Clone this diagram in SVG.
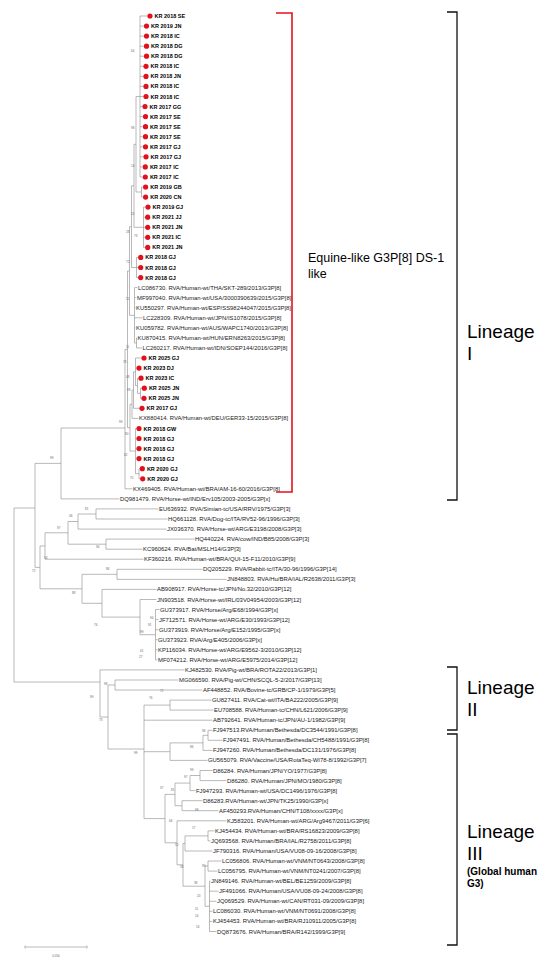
<svg xmlns="http://www.w3.org/2000/svg" width="550" height="968" viewBox="0 0 550 968">
<style>
.br{fill:none;stroke:#8a8a8a;stroke-width:0.6}
.kr{font-family:"Liberation Sans",Arial,sans-serif;font-size:5.5px;font-weight:bold;fill:#000}
.lf{font-family:"Liberation Sans",Arial,sans-serif;font-size:5.9px;fill:#1a1a1a}
.bs{font-family:"Liberation Sans",Arial,sans-serif;font-size:3px;fill:#666}
.dot{fill:#e3101c}
.brk{fill:none;stroke:#111;stroke-width:1.3}
.red{fill:none;stroke:#e3101c;stroke-width:1.6}
.big{font-family:"Liberation Sans",Arial,sans-serif;font-size:19px;fill:#000}
.mid{font-family:"Liberation Sans",Arial,sans-serif;font-size:12.5px;fill:#000}
.sm{font-family:"Liberation Sans",Arial,sans-serif;font-size:10px;font-weight:bold;fill:#000}
</style>
<rect width="550" height="968" fill="#fff"/>
<g id="connectors" class="br">
<path d="M140,16V177M140,16H147.4M140,26.1H143.9M140,36.1H143.9M140,46.2H143.9M140,56.2H143.9M140,66.3H143.4M140,76.4H143.4M140,86.4H143.4M140,96.5H143.4M140,106.5H142.4M140,116.6H142.9M140,126.7H142.9M140,136.7H142.9M140,146.8H142.9M140,156.8H143.4M140,166.9H142.7M140,177H142.7"/>
<path d="M141.5,187V197.1M141.5,187H143M141.5,197.1H143"/>
<path d="M143.5,207.1V247.4M143.5,207.1H145.4M143.5,217.2H145.1M143.5,227.3H145.1M143.5,237.3H145.1M143.5,247.4H145.1"/>
<path d="M136,96.5V192M136,96.5H140M136,192H141.5"/>
<path d="M134,144.3V227.3M134,144.3H136M134,227.3H143.5"/>
<path d="M136.5,257.4V277.6M136.5,257.4H138.1M136.5,267.5H138.1M136.5,277.6H138.1"/>
<path d="M131.5,185.8V267.5M131.5,185.8H134M131.5,267.5H136.5"/>
<path d="M136.5,337.9V348M136.5,337.9H137M136.5,348H142"/>
<path d="M134.5,287.6V343M134.5,287.6H137.5M134.5,297.7H136.5M134.5,307.7H135.5M134.5,317.8H142.5M134.5,327.9H135.5M134.5,343H136.5"/>
<path d="M129.5,226.7V315.3M129.5,226.7H131.5M129.5,315.3H134.5"/>
<path d="M140.5,388.2V398.3M140.5,388.2H141.7M140.5,398.3H141.4"/>
<path d="M137.5,378.2V393.3M137.5,378.2H138.4M137.5,393.3H140.5"/>
<path d="M135.5,358V385.7M135.5,358H141.4M135.5,368.1H136.4M135.5,385.7H137.5"/>
<path d="M133.5,371.9V408.3M133.5,371.9H135.5M133.5,408.3H139.4"/>
<path d="M132,390.1V418.4M132,390.1H133.5M132,418.4H138.5"/>
<path d="M139,468.7V478.8M139,468.7H139.7M139,478.8H140.1"/>
<path d="M135.5,428.5V473.7M135.5,428.5H136.4M135.5,438.5H136.4M135.5,448.6H136.4M135.5,458.6H136.4M135.5,473.7H139"/>
<path d="M130,404.3V451.1M130,404.3H132M130,451.1H135.5"/>
<path d="M127.5,271V427.7M127.5,271H129.5M127.5,427.7H130"/>
<path d="M125,349.4V488.8M125,349.4H127.5M125,488.8H132.5"/>
<path d="M61,428V498.9M61,428H125M61,498.9H119.5"/>
<path d="M96,508.9V519M96,508.9H158.5M96,519H167.5"/>
<path d="M78,514V529.1M78,514H96M78,529.1H166.5"/>
<path d="M106,539.1V549.2M106,539.1H194.5M106,549.2H142.5"/>
<path d="M68,521.5V544.2M68,521.5H78M68,544.2H106"/>
<path d="M45,532.8V559.2M45,532.8H68M45,559.2H143.5"/>
<path d="M117,569.3V579.4M117,569.3H202.5M117,579.4H226.5"/>
<path d="M155.5,609.5V659.8M155.5,609.5H159.5M155.5,619.6H158.5M155.5,629.7H158.5M155.5,639.7H157.5M155.5,649.8H157.5M155.5,659.8H157.5"/>
<path d="M140,599.5V634.7M140,599.5H156.5M140,634.7H155.5"/>
<path d="M102,589.4V617.1M102,589.4H156.5M102,617.1H140"/>
<path d="M82,574.3V603.3M82,574.3H117M82,603.3H102"/>
<path d="M40,546V588.8M40,546H45M40,588.8H82"/>
<path d="M35,463.4V567.4M35,463.4H61M35,567.4H40"/>
<path d="M14,508V682M14,508H35M14,682H100"/>
<path d="M100,669.9V717M100,669.9H184.5M100,717H108"/>
<path d="M115,680V690M115,680H178.5M115,690H202.5"/>
<path d="M108,685V749M108,685H115M108,749H144"/>
<path d="M170,700.1V710.1M170,700.1H211.5M170,710.1H213.5"/>
<path d="M144,705.1V818.6M144,705.1H170M144,720.2H212.5M144,751.7H170M144,818.6H165"/>
<path d="M208,730.3V740.3M208,730.3H212.5M208,740.3H222.5"/>
<path d="M203,735.3V750.4M203,735.3H208M203,750.4H212.5"/>
<path d="M170,742.9V760.4M170,742.9H203M170,760.4H207.5"/>
<path d="M200,770.5V780.6M200,770.5H212.5M200,780.6H226.5"/>
<path d="M190,775.5V790.6M190,775.5H200M190,790.6H195.5"/>
<path d="M182,800.7V810.7M182,800.7H202.5M182,810.7H218.5"/>
<path d="M175,783.1V805.7M175,783.1H190M175,805.7H182"/>
<path d="M208,830.9V840.9M208,830.9H214.5M208,840.9H210.5"/>
<path d="M185,835.9V851M185,835.9H208M185,851H212.5"/>
<path d="M208,861V871.1M208,861H221.5M208,871.1H217.5"/>
<path d="M209.5,881.2V931.5M209.5,881.2H210.5M209.5,891.2H218.5M209.5,901.3H216.5M209.5,911.3H212.5M209.5,921.4H212.5M209.5,931.5H216.5"/>
<path d="M205,866V906.3M205,866H208M205,906.3H209.5"/>
<path d="M183,843.4V886.2M183,843.4H185M183,886.2H205"/>
<path d="M177,820.8V864.8M177,820.8H226.5M177,864.8H183"/>
<path d="M165,794.4V842.8M165,794.4H175M165,842.8H177"/>
</g>
<g id="bootstrap" class="bs">
<text x="131" y="52">64</text><text x="131" y="129">98</text><text x="131" y="167">14</text><text x="131" y="215">52</text><text x="126" y="233">28</text><text x="134" y="237">73</text><text x="126" y="263">72</text><text x="126" y="300">11</text><text x="126" y="348">11</text><text x="123" y="363">78</text><text x="126" y="378">48</text><text x="127" y="391">89</text><text x="119" y="423">99</text><text x="125" y="435">80</text><text x="124" y="456">62</text><text x="130" y="479">70</text>
<text x="50" y="459">99</text><text x="85" y="510">81</text><text x="69" y="517">46</text><text x="57" y="529">97</text><text x="96" y="548">94</text><text x="44" y="559">53</text><text x="32" y="572">72</text><text x="106" y="570">86</text><text x="72" y="594">88</text><text x="94" y="626">74</text><text x="140" y="633">99</text><text x="148" y="626">91</text><text x="150" y="619">94</text><text x="140" y="652">61</text><text x="139" y="658">27</text>
<text x="90" y="698">99</text><text x="104" y="685">98</text><text x="160" y="692">71</text><text x="149" y="699">76</text><text x="99" y="721">73</text><text x="202" y="732">98</text><text x="190" y="748">86</text><text x="134" y="754">99</text><text x="190" y="771">99</text><text x="184" y="778">97</text><text x="160" y="789">37</text><text x="171" y="791">81</text><text x="195" y="811">99</text><text x="169" y="822">66</text><text x="192" y="829">17</text><text x="175" y="846">52</text><text x="202" y="867">99</text><text x="180" y="868">58</text><text x="194" y="884">38</text><text x="197" y="897">20</text><text x="195" y="910">11</text><text x="195" y="917">14</text><text x="196" y="928">16</text>
</g>
<g id="leaves">
<g id="L01"><circle class="dot" cx="150" cy="16" r="2.6"/><text class="kr" x="154.6" y="18">KR 2018 SE</text></g>
<g id="L02"><circle class="dot" cx="146.5" cy="26.1" r="2.6"/><text class="kr" x="151.1" y="28.1">KR 2019 JN</text></g>
<g id="L03"><circle class="dot" cx="146.5" cy="36.1" r="2.6"/><text class="kr" x="151.1" y="38.1">KR 2018 IC</text></g>
<g id="L04"><circle class="dot" cx="146.5" cy="46.2" r="2.6"/><text class="kr" x="151.1" y="48.2">KR 2018 DG</text></g>
<g id="L05"><circle class="dot" cx="146.5" cy="56.2" r="2.6"/><text class="kr" x="151.1" y="58.2">KR 2018 DG</text></g>
<g id="L06"><circle class="dot" cx="146" cy="66.3" r="2.6"/><text class="kr" x="150.6" y="68.3">KR 2018 IC</text></g>
<g id="L07"><circle class="dot" cx="146" cy="76.4" r="2.6"/><text class="kr" x="150.6" y="78.4">KR 2018 JN</text></g>
<g id="L08"><circle class="dot" cx="146" cy="86.4" r="2.6"/><text class="kr" x="150.6" y="88.4">KR 2018 IC</text></g>
<g id="L09"><circle class="dot" cx="146" cy="96.5" r="2.6"/><text class="kr" x="150.6" y="98.5">KR 2018 IC</text></g>
<g id="L10"><circle class="dot" cx="145" cy="106.5" r="2.6"/><text class="kr" x="149.6" y="108.5">KR 2017 GG</text></g>
<g id="L11"><circle class="dot" cx="145.5" cy="116.6" r="2.6"/><text class="kr" x="150.1" y="118.6">KR 2017 SE</text></g>
<g id="L12"><circle class="dot" cx="145.5" cy="126.7" r="2.6"/><text class="kr" x="150.1" y="128.7">KR 2017 SE</text></g>
<g id="L13"><circle class="dot" cx="145.5" cy="136.7" r="2.6"/><text class="kr" x="150.1" y="138.7">KR 2017 SE</text></g>
<g id="L14"><circle class="dot" cx="145.5" cy="146.8" r="2.6"/><text class="kr" x="150.1" y="148.8">KR 2017 GJ</text></g>
<g id="L15"><circle class="dot" cx="146" cy="156.8" r="2.6"/><text class="kr" x="150.6" y="158.8">KR 2017 GJ</text></g>
<g id="L16"><circle class="dot" cx="145.3" cy="166.9" r="2.6"/><text class="kr" x="149.9" y="168.9">KR 2017 IC</text></g>
<g id="L17"><circle class="dot" cx="145.3" cy="177" r="2.6"/><text class="kr" x="149.9" y="179">KR 2017 IC</text></g>
<g id="L18"><circle class="dot" cx="145.6" cy="187" r="2.6"/><text class="kr" x="150.2" y="189">KR 2019 GB</text></g>
<g id="L19"><circle class="dot" cx="145.6" cy="197.1" r="2.6"/><text class="kr" x="150.2" y="199.1">KR 2020 CN</text></g>
<g id="L20"><circle class="dot" cx="148" cy="207.1" r="2.6"/><text class="kr" x="152.6" y="209.1">KR 2019 GJ</text></g>
<g id="L21"><circle class="dot" cx="147.7" cy="217.2" r="2.6"/><text class="kr" x="152.3" y="219.2">KR 2021 JJ</text></g>
<g id="L22"><circle class="dot" cx="147.7" cy="227.3" r="2.6"/><text class="kr" x="152.3" y="229.3">KR 2021 JN</text></g>
<g id="L23"><circle class="dot" cx="147.7" cy="237.3" r="2.6"/><text class="kr" x="152.3" y="239.3">KR 2021 IC</text></g>
<g id="L24"><circle class="dot" cx="147.7" cy="247.4" r="2.6"/><text class="kr" x="152.3" y="249.4">KR 2021 JN</text></g>
<g id="L25"><circle class="dot" cx="140.7" cy="257.4" r="2.6"/><text class="kr" x="145.3" y="259.4">KR 2018 GJ</text></g>
<g id="L26"><circle class="dot" cx="140.7" cy="267.5" r="2.6"/><text class="kr" x="145.3" y="269.5">KR 2018 GJ</text></g>
<g id="L27"><circle class="dot" cx="140.7" cy="277.6" r="2.6"/><text class="kr" x="145.3" y="279.6">KR 2018 GJ</text></g>
<g id="L28"><text class="lf" x="138" y="289.6">LC086730. RVA/Human-wt/THA/SKT-289/2013/G3P[8]</text></g>
<g id="L29"><text class="lf" x="137" y="299.7">MF997040. RVA/Human-wt/USA/3000390639/2015/G3P[8]</text></g>
<g id="L30"><text class="lf" x="136" y="309.7">KU550297. RVA/Human-wt/ESP/SS98244047/2015/G3P[8]</text></g>
<g id="L31"><text class="lf" x="143" y="319.8">LC228309. RVA/Human-wt/JPN/IS1078/2015/G3P[8]</text></g>
<g id="L32"><text class="lf" x="136" y="329.9">KU059782. RVA/Human-wt/AUS/WAPC1740/2013/G3P[8]</text></g>
<g id="L33"><text class="lf" x="137.5" y="339.9">KU870415. RVA/Human-wt/HUN/ERN8263/2015/G3P[8]</text></g>
<g id="L34"><text class="lf" x="142.5" y="350">LC260217. RVA/Human-wt/IDN/SOEP144/2016/G3P[8]</text></g>
<g id="L35"><circle class="dot" cx="144" cy="358" r="2.6"/><text class="kr" x="148.6" y="360">KR 2025 GJ</text></g>
<g id="L36"><circle class="dot" cx="139" cy="368.1" r="2.6"/><text class="kr" x="143.6" y="370.1">KR 2023 DJ</text></g>
<g id="L37"><circle class="dot" cx="141" cy="378.2" r="2.6"/><text class="kr" x="145.6" y="380.2">KR 2023 IC</text></g>
<g id="L38"><circle class="dot" cx="144.3" cy="388.2" r="2.6"/><text class="kr" x="148.9" y="390.2">KR 2025 JN</text></g>
<g id="L39"><circle class="dot" cx="144" cy="398.3" r="2.6"/><text class="kr" x="148.6" y="400.3">KR 2025 JN</text></g>
<g id="L40"><circle class="dot" cx="142" cy="408.3" r="2.6"/><text class="kr" x="146.6" y="410.3">KR 2017 GJ</text></g>
<g id="L41"><text class="lf" x="139" y="420.4">KX880414. RVA/Human-wt/DEU/GER33-15/2015/G3P[8]</text></g>
<g id="L42"><circle class="dot" cx="139" cy="428.5" r="2.6"/><text class="kr" x="143.6" y="430.5">KR 2018 GW</text></g>
<g id="L43"><circle class="dot" cx="139" cy="438.5" r="2.6"/><text class="kr" x="143.6" y="440.5">KR 2018 GJ</text></g>
<g id="L44"><circle class="dot" cx="139" cy="448.6" r="2.6"/><text class="kr" x="143.6" y="450.6">KR 2018 GJ</text></g>
<g id="L45"><circle class="dot" cx="139" cy="458.6" r="2.6"/><text class="kr" x="143.6" y="460.6">KR 2018 GJ</text></g>
<g id="L46"><circle class="dot" cx="142.3" cy="468.7" r="2.6"/><text class="kr" x="146.9" y="470.7">KR 2020 GJ</text></g>
<g id="L47"><circle class="dot" cx="142.7" cy="478.8" r="2.6"/><text class="kr" x="147.3" y="480.8">KR 2020 GJ</text></g>
<g id="L48"><text class="lf" x="133" y="490.8">KX469405. RVA/Human-wt/BRA/AM-16-60/2016/G3P[8]</text></g>
<g id="L49"><text class="lf" x="120" y="500.9">DQ981479. RVA/Horse-wt/IND/Erv105/2003-2005/G3P[x]</text></g>
<g id="L50"><text class="lf" x="159" y="510.9">EU636932. RVA/Simian-tc/USA/RRV/1975/G3P[3]</text></g>
<g id="L51"><text class="lf" x="168" y="521">HQ661128. RVA/Dog-tc/ITA/RV52-96/1996/G3P[3]</text></g>
<g id="L52"><text class="lf" x="167" y="531.1">JX036370. RVA/Horse-wt/ARG/E3198/2008/G3P[3]</text></g>
<g id="L53"><text class="lf" x="195" y="541.1">HQ440224. RVA/cow/IND/B85/2008/G3P[3]</text></g>
<g id="L54"><text class="lf" x="143" y="551.2">KC960624. RVA/Bat/MSLH14/G3P[3]</text></g>
<g id="L55"><text class="lf" x="144" y="561.2">KF360216. RVA/Human-wt/BRA/QUI-15-F11/2010/G3P[9]</text></g>
<g id="L56"><text class="lf" x="203" y="571.3">DQ205229. RVA/Rabbit-tc/ITA/30-96/1996/G3P[14]</text></g>
<g id="L57"><text class="lf" x="227" y="581.4">JN848803. RVA/Hu/BRA/IAL/R2638/2011/G3P[3]</text></g>
<g id="L58"><text class="lf" x="157" y="591.4">AB908917. RVA/Horse-tc/JPN/No.32/2010/G3P[12]</text></g>
<g id="L59"><text class="lf" x="157" y="601.5">JN903518. RVA/Horse-wt/IRL/03V04954/2003/G3P[12]</text></g>
<g id="L60"><text class="lf" x="160" y="611.5">GU373917. RVA/Horse/Arg/E68/1994/G3P[x]</text></g>
<g id="L61"><text class="lf" x="159" y="621.6">JF712571. RVA/Horse-wt/ARG/E30/1993/G3P[12]</text></g>
<g id="L62"><text class="lf" x="159" y="631.7">GU373919. RVA/Horse/Arg/E152/1995/G3P[x]</text></g>
<g id="L63"><text class="lf" x="158" y="641.7">GU373923. RVA/Arg/E405/2006/G3P[x]</text></g>
<g id="L64"><text class="lf" x="158" y="651.8">KP116034. RVA/Horse-wt/ARG/E9562-3/2010/G3P[12]</text></g>
<g id="L65"><text class="lf" x="158" y="661.8">MF074212. RVA/Horse-wt/ARG/E5975/2014/G3P[12]</text></g>
<g id="L66"><text class="lf" x="185" y="671.9">KJ482530. RVA/Pig-wt/BRA/ROTA22/2013/G3P[1]</text></g>
<g id="L67"><text class="lf" x="179" y="682">MG066590. RVA/Pig-wt/CHN/SCQL-5-2/2017/G3P[13]</text></g>
<g id="L68"><text class="lf" x="203" y="692">AF448852. RVA/Bovine-tc/GRB/CP-1/1979/G3P[5]</text></g>
<g id="L69"><text class="lf" x="212" y="702.1">GU827411. RVA/Cat-wt/ITA/BA222/2005/G3P[9]</text></g>
<g id="L70"><text class="lf" x="214" y="712.1">EU708588. RVA/Human-tc/CHN/L621/2006/G3P[9]</text></g>
<g id="L71"><text class="lf" x="213" y="722.2">AB792641. RVA/Human-tc/JPN/AU-1/1982/G3P[9]</text></g>
<g id="L72"><text class="lf" x="213" y="732.3">FJ947513.RVA/Human/Bethesda/DC3544/1991/G3P[8]</text></g>
<g id="L73"><text class="lf" x="223" y="742.3">FJ947491. RVA/Human/Bethesda/CH5488/1991/G3P[8]</text></g>
<g id="L74"><text class="lf" x="213" y="752.4">FJ947260. RVA/Human/Bethesda/DC131/1976/G3P[8]</text></g>
<g id="L75"><text class="lf" x="208" y="762.4">GU565079. RVA/Vaccine/USA/RotaTeq-WI78-8/1992/G3P[7]</text></g>
<g id="L76"><text class="lf" x="213" y="772.5">D86284. RVA/Human/JPN/YO/1977/G3P[8]</text></g>
<g id="L77"><text class="lf" x="227" y="782.6">D86280. RVA/Human/JPN/MO/1980/G3P[8]</text></g>
<g id="L78"><text class="lf" x="196" y="792.6">FJ947293. RVA/Human-wt/USA/DC1496/1976/G3P[8]</text></g>
<g id="L79"><text class="lf" x="203" y="802.7">D86283.RVA/Human-wt/JPN/TK25/1990/G3P[x]</text></g>
<g id="L80"><text class="lf" x="219" y="812.7">AF450293.RVA/Human/CHN/T108/xxxx/G3P[x]</text></g>
<g id="L81"><text class="lf" x="227" y="822.8">KJ583201. RVA/Human-wt/ARG/Arg9467/2011/G3P[6]</text></g>
<g id="L82"><text class="lf" x="215" y="832.9">KJ454434. RVA/Human-wt/BRA/RS16823/2009/G3P[8]</text></g>
<g id="L83"><text class="lf" x="211" y="842.9">JQ693568. RVA/Human/BRA/IAL/R2758/2011/G3P[8]</text></g>
<g id="L84"><text class="lf" x="213" y="853">JF790316. RVA/Human/USA/VU08-09-16/2008/G3P[8]</text></g>
<g id="L85"><text class="lf" x="222" y="863">LC056806. RVA/Human-wt/VNM/NT0643/2008/G3P[8]</text></g>
<g id="L86"><text class="lf" x="218" y="873.1">LC056795. RVA/Human-wt/VNM/NT0241/2007/G3P[8]</text></g>
<g id="L87"><text class="lf" x="211" y="883.2">JN849146. RVA/Human-wt/BEL/BE1259/2009/G3P[8]</text></g>
<g id="L88"><text class="lf" x="219" y="893.2">JF491066. RVA/Human/USA/VU08-09-24/2008/G3P[8]</text></g>
<g id="L89"><text class="lf" x="217" y="903.3">JQ069529. RVA/Human-wt/CAN/RT031-09/2009/G3P[8]</text></g>
<g id="L90"><text class="lf" x="213" y="913.3">LC086030. RVA/Human-wt/VNM/NT0691/2008/G3P[8]</text></g>
<g id="L91"><text class="lf" x="213" y="923.4">KJ454453. RVA/Human-wt/BRA/RJ10911/2005/G3P[8]</text></g>
<g id="L92"><text class="lf" x="217" y="933.5">DQ873676. RVA/Human/BRA/R142/1999/G3P[9]</text></g>
</g>
<g id="equine-bracket">
<path class="red" d="M276,13H292V492H276"/>
<text class="mid" x="308" y="262">Equine-like G3P[8] DS-1</text>
<text class="mid" x="308" y="278">like</text>
</g>
<g id="lineage-I">
<path class="brk" d="M447,12H457V500H447"/>
<text class="big" x="467" y="338">Lineage</text>
<text class="big" x="467" y="360">I</text>
</g>
<g id="lineage-II">
<path class="brk" d="M447,667H457V730H447"/>
<text class="big" x="467" y="694">Lineage</text>
<text class="big" x="467" y="716">II</text>
</g>
<g id="lineage-III">
<path class="brk" d="M447,734H457V945H447"/>
<text class="big" x="467" y="838">Lineage</text>
<text class="big" x="467" y="860">III</text>
<text class="sm" x="467" y="875">(Global human</text>
<text class="sm" x="467" y="887">G3)</text>
</g>
<g id="scale-bar">
<path class="br" d="M25,947H87M25,945.5V948.5M87,945.5V948.5"/>
<text class="bs" x="56" y="957" text-anchor="middle">0.050</text>
</g>
</svg>
